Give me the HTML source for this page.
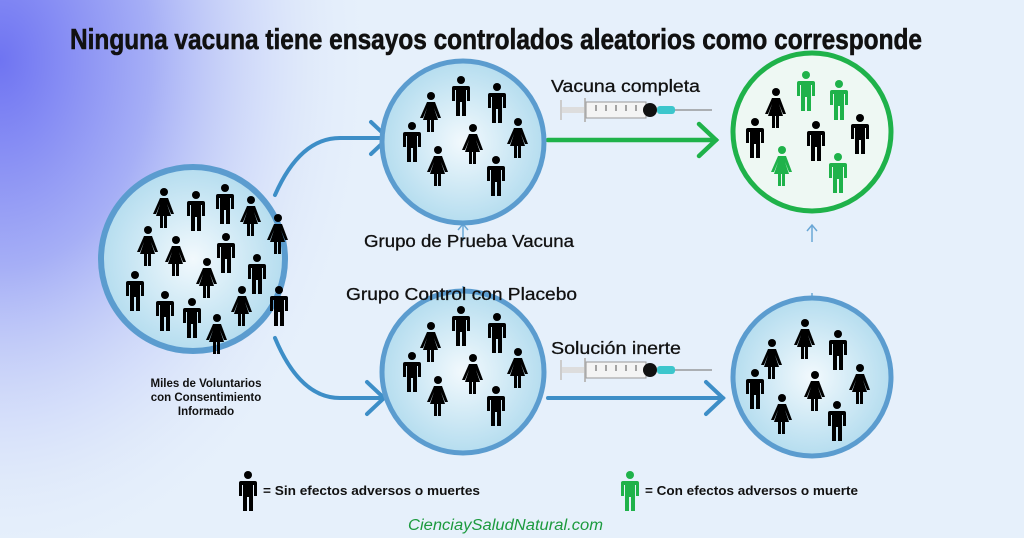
<!DOCTYPE html>
<html><head><meta charset="utf-8"><style>
html,body{margin:0;padding:0;width:1024px;height:538px;overflow:hidden}
svg{display:block}
text{font-family:"Liberation Sans",sans-serif}
</style></head><body>
<svg width="1024" height="538" viewBox="0 0 1024 538" xmlns="http://www.w3.org/2000/svg">
<defs>
<radialGradient id="bg" cx="0" cy="0" r="1" gradientUnits="userSpaceOnUse" gradientTransform="translate(0 60) scale(380 520)">
<stop offset="0" stop-color="#6f74f2"/><stop offset="0.4" stop-color="#a6aff6"/><stop offset="1" stop-color="#e6f0fb" stop-opacity="0"/>
</radialGradient>
<radialGradient id="cf" cx="0.5" cy="0.5" r="0.5">
<stop offset="0" stop-color="#f2f9fd"/><stop offset="1" stop-color="#b5ddef"/>
</radialGradient>
<symbol id="m" viewBox="0 0 18 40" overflow="visible">
<circle cx="9" cy="4" r="4"/><path d="M2 10h14a2 2 0 0 1 2 2v13h-3v-11h-1v26h-4v-14h-2v14h-4v-26h-1v11h-3v-13a2 2 0 0 1 2-2z"/>
</symbol>
<symbol id="w" viewBox="0 0 20 40" overflow="visible">
<circle cx="10" cy="4" r="4"/><path d="M6 10h8l6 16h-3l-4-10 4 12h-4v12h-3v-12h-1v12h-3v-12h-4l4-12-4 10h-3z"/>
</symbol>
<g id="syr">
<rect x="0" y="0" width="2" height="20" fill="#ccc"/>
<rect x="2" y="7" width="22" height="6" fill="#ddd"/>
<rect x="24" y="-2" width="2" height="24" fill="#bbb"/>
<rect x="26" y="2" width="60" height="16" fill="#f4f4f4" stroke="#999" stroke-width="1"/>
<path d="M36 5v6M46 5v6M56 5v6M66 5v6M76 5v6" stroke="#555"/>
<ellipse cx="90" cy="10" rx="7" ry="7" fill="#111"/>
<rect x="97" y="6" width="18" height="8" rx="3" fill="#3cc6cc"/>
<line x1="115" y1="10" x2="152" y2="10" stroke="#888" stroke-width="1.2"/>
</g>
</defs>
<rect width="1024" height="538" fill="#e6f0fb"/>
<rect width="1024" height="538" fill="url(#bg)"/>
<text x="70" y="49" font-size="29" font-weight="bold" fill="#111" stroke="#111" stroke-width="0.6" textLength="852" lengthAdjust="spacingAndGlyphs">Ninguna vacuna tiene ensayos controlados aleatorios como corresponde</text>

<!-- arrows -->
<g fill="none" stroke="#3d8ec7" stroke-width="4" stroke-linecap="round">
<path d="M275 195 Q300 138 340 138 L388 138"/>
<path d="M371 122 L388 138 L371 154"/>
<path d="M275 338 Q300 398 340 398 L384 398"/>
<path d="M367 382 L384 398 L367 414"/>
<path d="M548 398 L723 398"/>
<path d="M706 382 L723 398 L706 414"/>
</g>
<g fill="none" stroke="#1fb24a" stroke-width="4.5" stroke-linecap="round">
<path d="M548 140 L716 140"/><path d="M699 124 L716 140 L699 156"/>
</g>
<g fill="none" stroke="#6aa7d6" stroke-width="1.5">
<path d="M463 241 V224 M458 230 L463 224 L468 230"/>
<path d="M463 286 V306 M458 300 L463 306 L468 300"/>
<path d="M812 242 V225 M807 231 L812 225 L817 231"/>
<path d="M812 293 V310 M807 304 L812 310 L817 304"/>
</g>

<!-- circles -->
<circle cx="193" cy="259" r="92" fill="url(#cf)" stroke="#5b9ccf" stroke-width="6"/>
<circle cx="463" cy="142" r="81" fill="url(#cf)" stroke="#5b9ccf" stroke-width="5"/>
<circle cx="463" cy="372" r="81" fill="url(#cf)" stroke="#5b9ccf" stroke-width="5"/>
<circle cx="812" cy="132" r="79" fill="#eef8f3" stroke="#1fb24a" stroke-width="5"/>
<circle cx="812" cy="377" r="79" fill="url(#cf)" stroke="#5b9ccf" stroke-width="5"/>

<!-- people big -->
<g fill="#000">
<use href="#w" x="154" y="188" width="20" height="40"/>
<use href="#m" x="187" y="191" width="18" height="40"/>
<use href="#m" x="216" y="184" width="18" height="40"/>
<use href="#w" x="241" y="196" width="20" height="40"/>
<use href="#w" x="268" y="214" width="20" height="40"/>
<use href="#w" x="138" y="226" width="20" height="40"/>
<use href="#w" x="166" y="236" width="20" height="40"/>
<use href="#m" x="217" y="233" width="18" height="40"/>
<use href="#w" x="197" y="258" width="20" height="40"/>
<use href="#m" x="248" y="254" width="18" height="40"/>
<use href="#m" x="126" y="271" width="18" height="40"/>
<use href="#m" x="156" y="291" width="18" height="40"/>
<use href="#m" x="183" y="298" width="18" height="40"/>
<use href="#w" x="232" y="286" width="20" height="40"/>
<use href="#m" x="270" y="286" width="18" height="40"/>
<use href="#w" x="207" y="314" width="20" height="40"/>
</g>
<!-- top mid -->
<g fill="#000">
<use href="#m" x="452" y="76" width="18" height="40"/>
<use href="#w" x="421" y="92" width="20" height="40"/>
<use href="#m" x="488" y="83" width="18" height="40"/>
<use href="#m" x="403" y="122" width="18" height="40"/>
<use href="#w" x="463" y="124" width="20" height="40"/>
<use href="#w" x="508" y="118" width="20" height="40"/>
<use href="#w" x="428" y="146" width="20" height="40"/>
<use href="#m" x="487" y="156" width="18" height="40"/>
</g>
<g fill="#000" transform="translate(0 230)">
<use href="#m" x="452" y="76" width="18" height="40"/>
<use href="#w" x="421" y="92" width="20" height="40"/>
<use href="#m" x="488" y="83" width="18" height="40"/>
<use href="#m" x="403" y="122" width="18" height="40"/>
<use href="#w" x="463" y="124" width="20" height="40"/>
<use href="#w" x="508" y="118" width="20" height="40"/>
<use href="#w" x="428" y="146" width="20" height="40"/>
<use href="#m" x="487" y="156" width="18" height="40"/>
</g>
<!-- top right -->
<use href="#w" x="766" y="88" width="20" height="40" fill="#000"/>
<use href="#m" x="797" y="71" width="18" height="40" fill="#1fb24a"/>
<use href="#m" x="830" y="80" width="18" height="40" fill="#1fb24a"/>
<use href="#m" x="746" y="118" width="18" height="40" fill="#000"/>
<use href="#m" x="807" y="121" width="18" height="40" fill="#000"/>
<use href="#m" x="851" y="114" width="18" height="40" fill="#000"/>
<use href="#w" x="772" y="146" width="20" height="40" fill="#1fb24a"/>
<use href="#m" x="829" y="153" width="18" height="40" fill="#1fb24a"/>
<!-- bottom right -->
<g fill="#000">
<use href="#w" x="795" y="319" width="20" height="40"/>
<use href="#m" x="829" y="330" width="18" height="40"/>
<use href="#w" x="762" y="339" width="20" height="40"/>
<use href="#m" x="746" y="369" width="18" height="40"/>
<use href="#w" x="805" y="371" width="20" height="40"/>
<use href="#w" x="850" y="364" width="20" height="40"/>
<use href="#w" x="772" y="394" width="20" height="40"/>
<use href="#m" x="828" y="401" width="18" height="40"/>
</g>

<!-- syringes -->
<use href="#syr" x="560" y="100"/>
<use href="#syr" x="560" y="360"/>

<!-- labels -->
<g fill="#111" font-size="17.5" stroke="#111" stroke-width="0.3">
<text x="551" y="92" textLength="149" lengthAdjust="spacingAndGlyphs">Vacuna completa</text>
<text x="551" y="354" textLength="130" lengthAdjust="spacingAndGlyphs">Solución inerte</text>
<text x="364" y="247" textLength="210" lengthAdjust="spacingAndGlyphs">Grupo de Prueba Vacuna</text>
<text x="346" y="300" textLength="231" lengthAdjust="spacingAndGlyphs">Grupo Control con Placebo</text>
</g>
<g fill="#111" font-size="11.5" font-weight="bold" text-anchor="middle">
<text x="206" y="387">Miles de Voluntarios</text>
<text x="206" y="401">con Consentimiento</text>
<text x="206" y="415">Informado</text>
</g>
<use href="#m" x="239" y="471" width="18" height="40" fill="#000"/>
<text x="263" y="495" font-size="12.5" font-weight="bold" fill="#111" textLength="217" lengthAdjust="spacingAndGlyphs">= Sin efectos adversos o muertes</text>
<use href="#m" x="621" y="471" width="18" height="40" fill="#1fb24a"/>
<text x="645" y="495" font-size="12.5" font-weight="bold" fill="#111" textLength="213" lengthAdjust="spacingAndGlyphs">= Con efectos adversos o muerte</text>
<text x="408" y="530" font-size="15.5" font-style="italic" fill="#1c9a3e" textLength="195" lengthAdjust="spacingAndGlyphs">CienciaySaludNatural.com</text>
</svg>
</body></html>
